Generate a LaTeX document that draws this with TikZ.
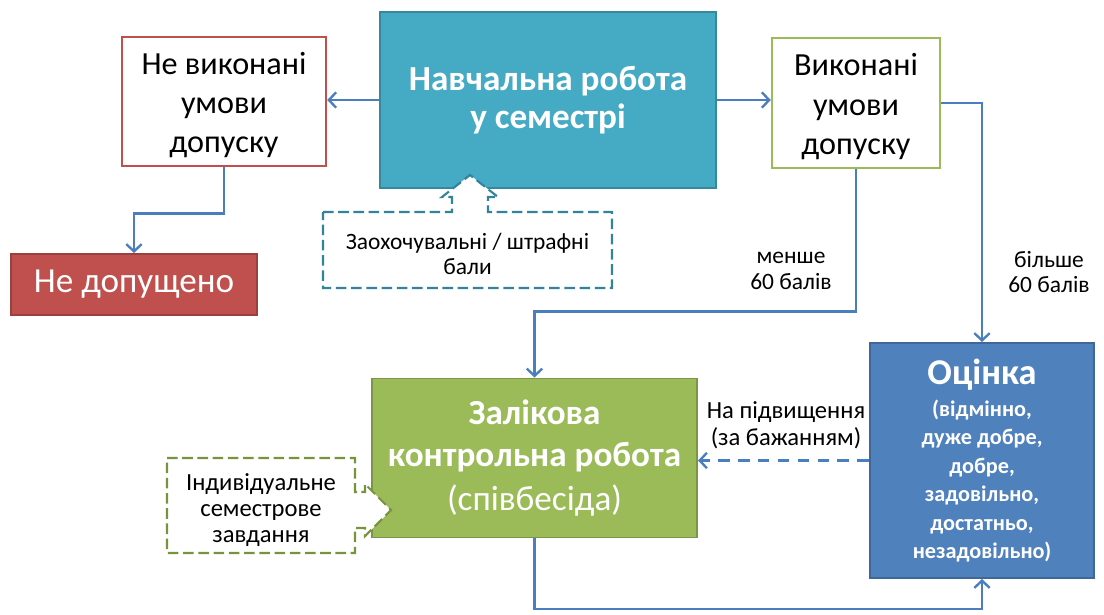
\documentclass[tikz,border=0pt]{standalone}
\usepackage{fontspec}
\setmainfont{Carlito}
\usetikzlibrary{arrows.meta}
\definecolor{tealbox}{HTML}{45AAC4}
\definecolor{tealdash}{HTML}{31849B}
\definecolor{redc}{HTML}{C0504D}
\definecolor{greenc}{HTML}{9BBB59}
\definecolor{greendash}{HTML}{77933C}
\definecolor{bluec}{HTML}{4F81BD}
\definecolor{linec}{HTML}{4A7EBF}
\tikzset{
  conn/.style={draw=linec, line width=2.4pt, -{Straight Barb[length=2.2mm,width=4.6mm,line width=2pt]}},
  outl/.style={draw, line width=2pt, fill=white, align=center, inner sep=0pt},
  filled/.style={line width=1.6pt, align=center, inner sep=0pt, text=white},
  lbl/.style={align=center, inner sep=0pt, font=\fontsize{20}{22}\selectfont},
  callout/.style={line width=1.8pt, dashed, dash pattern=on 9pt off 4pt, fill=white}
}
\begin{document}
\begin{tikzpicture}[x=0.03cm,y=-0.03cm]
\useasboundingbox[fill=white] (0,0) rectangle (1104,614);

% boxes
\node[filled, fill=tealbox, draw=tealbox!80!black, minimum width=10.08cm, minimum height=5.28cm,
      font=\fontsize{30}{32}\selectfont\bfseries] (teal) at (548,100) {Навчальна робота\\у семестрі};
\node[outl, draw=redc, minimum width=6.12cm, minimum height=3.87cm,
      font=\fontsize{27.5}{33.3}\selectfont] (nv) at (224,101.5) {\rule{0pt}{25pt}Не виконані\\умови\\допуску};
\node[outl, draw=greenc, minimum width=5.04cm, minimum height=3.9cm,
      font=\fontsize{27.5}{33.3}\selectfont] (vy) at (856,103) {\rule{0pt}{25pt}Виконані\\умови\\допуску};
\node[filled, fill=redc, draw=redc!80!black, minimum width=7.38cm, minimum height=1.83cm,
      font=\fontsize{30}{34}\selectfont] (nd) at (134,284.5) {Не допущено};
\node[filled, fill=greenc, draw=greenc!80!black, minimum width=9.75cm, minimum height=4.77cm,
      font=\fontsize{30}{36}\selectfont\bfseries] (zk) at (534.5,458)
      {Залікова\\контрольна робота\\[1pt]{\mdseries\fontsize{30}{34}\selectfont(співбесіда)}};
\node[filled, fill=bluec, draw=bluec!80!black, minimum width=6.72cm, minimum height=7.05cm,
      font=\fontsize{19}{24.3}\selectfont\bfseries] (oc) at (982,460.5)
      {{\fontsize{31}{36}\selectfont Оцінка}\\[3pt](відмінно,\\дуже добре,\\добре,\\задовільно,\\достатньо,\\незадовільно)};

% callouts (drawn over the boxes, white filled)
\draw[callout, draw=tealdash]
  (323,212) -- (452,212) -- (452,197) -- (442,197) -- (470,175) -- (498,197) -- (488,197)
  -- (488,212) -- (612,212) -- (612,288) -- (323,288) -- cycle;
\node[align=center, inner sep=0pt, font=\fontsize{20}{22}\selectfont] (zb) at (467.5,254)
  {Заохочувальні / штрафні\\бали};
\draw[callout, draw=greendash]
  (167,458) -- (355,458) -- (355,492) -- (365,492) -- (365,484) -- (391,510) -- (365,536)
  -- (365,528) -- (355,528) -- (355,553) -- (167,553) -- cycle;
\node[align=center, inner sep=0pt, font=\fontsize{21}{22.5}\selectfont] (iz) at (261,510)
  {Індивідуальне\\семестрове\\завдання};

% connectors
\draw[conn] (teal.west) -- (teal.west -| nv.east);
\draw[conn] (teal.east) -- (teal.east -| vy.west);
\draw[conn] (nv.south) -- ++(0,46) -| (nd.north);
\draw[conn] (vy.south) -- ++(0,142) -| (zk.north);
\draw[conn] (vy.east) -| (oc.north);
\draw[conn, dashed, dash pattern=on 10pt off 7pt] (oc.west) -- (zk.east |- oc.west);
\draw[conn] (zk.south) -- ++(0,70.5) -| (oc.south);

% labels
\node[lbl] (l1) at (791,271) {менше\\60 балів};
\node[lbl] (l2) at (1049,272) {більше\\60 балів};
\node[lbl, font=\fontsize{21}{23}\selectfont] (l3) at (786,425) {На підвищення\\(за бажанням)};
\end{tikzpicture}
\end{document}
